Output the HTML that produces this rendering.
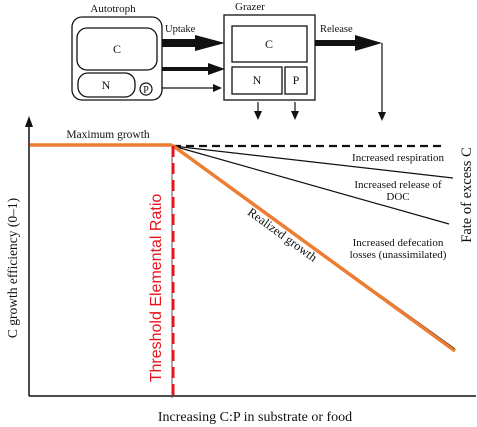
<!DOCTYPE html>
<html><head><meta charset="utf-8"><style>
html,body{margin:0;padding:0;background:#fff;}
svg{display:block;}
.s{font-family:"Liberation Serif",serif;fill:#111;}
</style></head><body>
<svg width="477" height="427" viewBox="0 0 477 427" xmlns="http://www.w3.org/2000/svg">
<!-- Autotroph -->
<text class="s" x="113" y="12" font-size="11" text-anchor="middle">Autotroph</text>
<rect x="72" y="17" width="90" height="83" rx="10" fill="none" stroke="#111" stroke-width="1.3"/>
<rect x="77" y="28" width="80" height="42" rx="10" fill="none" stroke="#111" stroke-width="1.3"/>
<text class="s" x="117" y="53" font-size="12" text-anchor="middle">C</text>
<rect x="78" y="73" width="57" height="24" rx="10" fill="none" stroke="#111" stroke-width="1.3"/>
<text class="s" x="106" y="89" font-size="12" text-anchor="middle">N</text>
<circle cx="146" cy="89" r="6" fill="none" stroke="#111" stroke-width="1.2"/>
<text class="s" x="146" y="93" font-size="10" text-anchor="middle">P</text>
<!-- arrows -->
<text class="s" x="165" y="32" font-size="10.5">Uptake</text>
<rect x="162" y="39" width="34" height="8" fill="#111"/>
<polygon points="195,35 225,43 195,51" fill="#111"/>
<rect x="162" y="67" width="48" height="4" fill="#111"/>
<polygon points="208,63 225,69 208,75" fill="#111"/>
<line x1="162" y1="88" x2="215" y2="88" stroke="#111" stroke-width="1.3"/>
<polygon points="213,84 222,88 213,92" fill="#111"/>
<!-- Grazer -->
<text class="s" x="250" y="10" font-size="11" text-anchor="middle">Grazer</text>
<rect x="224" y="15" width="91" height="85" fill="none" stroke="#111" stroke-width="1.3"/>
<rect x="232" y="26" width="75" height="36" fill="none" stroke="#111" stroke-width="1.3"/>
<text class="s" x="269" y="48" font-size="12" text-anchor="middle">C</text>
<rect x="232" y="67" width="50" height="27" fill="none" stroke="#111" stroke-width="1.3"/>
<text class="s" x="257" y="84" font-size="12" text-anchor="middle">N</text>
<rect x="285" y="67" width="22" height="27" fill="none" stroke="#111" stroke-width="1.3"/>
<text class="s" x="296" y="84" font-size="12" text-anchor="middle">P</text>
<text class="s" x="320" y="32" font-size="10.5">Release</text>
<rect x="315" y="40" width="42" height="6" fill="#111"/>
<polygon points="355,35 382,43 355,51" fill="#111"/>
<line x1="382" y1="43" x2="382" y2="113" stroke="#111" stroke-width="1.2"/>
<polygon points="378,112 386,112 382,121" fill="#111"/>
<line x1="258" y1="102" x2="258" y2="112" stroke="#111" stroke-width="1.2"/>
<polygon points="254,111 262,111 258,120" fill="#111"/>
<line x1="295" y1="102" x2="295" y2="112" stroke="#111" stroke-width="1.2"/>
<polygon points="291,111 299,111 295,120" fill="#111"/>
<!-- axes -->
<line x1="29" y1="122" x2="29" y2="396" stroke="#111" stroke-width="1.5"/>
<polygon points="25,127 33,127 29,116" fill="#111"/>
<line x1="29" y1="396" x2="476" y2="396" stroke="#111" stroke-width="1.5"/>
<!-- lines -->
<line x1="173" y1="146" x2="443" y2="146" stroke="#111" stroke-width="2.2" stroke-dasharray="8,5"/>
<line x1="173" y1="146" x2="453" y2="178" stroke="#111" stroke-width="1.2"/>
<line x1="173" y1="146" x2="449" y2="224" stroke="#111" stroke-width="1.2"/>
<line x1="173" y1="146" x2="455" y2="349" stroke="#111" stroke-width="1.2"/>
<line x1="30" y1="145" x2="172" y2="145" stroke="#ed7d31" stroke-width="3.5"/>
<line x1="172" y1="145" x2="455" y2="351" stroke="#ed7d31" stroke-width="3.5"/>
<line x1="172" y1="146" x2="172" y2="398" stroke="#555" stroke-width="1"/>
<line x1="173" y1="146" x2="173" y2="398" stroke="#e8141c" stroke-width="3" stroke-dasharray="11,6"/>
<!-- labels -->
<text class="s" x="108" y="138" font-size="11.5" text-anchor="middle">Maximum growth</text>
<text class="s" x="398" y="161" font-size="11" text-anchor="middle">Increased respiration</text>
<text class="s" x="398" y="188" font-size="11" text-anchor="middle">Increased release of</text>
<text class="s" x="398" y="200" font-size="11" text-anchor="middle">DOC</text>
<text class="s" x="398" y="246" font-size="11" text-anchor="middle">Increased defecation</text>
<text class="s" x="398" y="258" font-size="11" text-anchor="middle">losses (unassimilated)</text>
<text class="s" font-size="14.5" text-anchor="middle" transform="translate(471,195) rotate(-90)">Fate of excess C</text>
<text class="s" font-size="12.5" text-anchor="middle" transform="translate(280,238) rotate(36)">Realized growth</text>
<text font-family="Liberation Sans,sans-serif" fill="#e8141c" font-size="16" text-anchor="middle" transform="translate(161,288) rotate(-90)">Threshold Elemental Ratio</text>
<text class="s" font-size="13.5" text-anchor="middle" transform="translate(17,268) rotate(-90)">C growth efficiency (0–1)</text>
<text class="s" x="255" y="421" font-size="14" text-anchor="middle">Increasing C:P in substrate or food</text>
</svg>
</body></html>
